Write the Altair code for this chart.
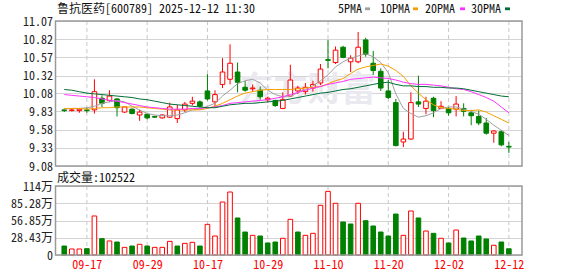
import altair as alt
import pandas as pd

# ---------------- data ----------------
dates = ["09-12","09-15","09-16","09-17","09-18","09-19","09-22","09-23","09-24","09-25",
         "09-26","09-29","09-30","10-09","10-10","10-13","10-14","10-15","10-16","10-17",
         "10-20","10-21","10-22","10-23","10-24","10-27","10-28","10-29","10-30","10-31",
         "11-03","11-04","11-05","11-06","11-07","11-10","11-11","11-12","11-13","11-14",
         "11-17","11-18","11-19","11-20","11-21","11-24","11-25","11-26","11-27","11-28",
         "12-01","12-02","12-03","12-04","12-05","12-08","12-09","12-10","12-11","12-12"]

opens  = [9.85, 9.84, 9.84, 9.85, 9.85, 10.01, 9.98, 10.00, 9.82, 9.86,
          9.78, 9.79, 9.76, 9.74, 9.75, 9.73, 9.85, 9.94, 9.96, 10.11,
          9.96, 10.20, 10.27, 10.37, 10.16, 10.14, 10.12, 9.99, 9.98, 9.87,
          10.04, 10.11, 10.10, 10.15, 10.22, 10.54, 10.50, 10.71, 10.51, 10.51,
          10.81, 10.49, 10.38, 10.11, 9.95, 9.41, 9.45, 9.96, 9.87, 10.01,
          9.87, 9.87, 9.86, 9.87, 9.81, 9.76, 9.67, 9.53, 9.55, 9.35]
highs  = [9.87, 9.87, 9.87, 9.88, 10.27, 10.05, 10.12, 10.01, 9.89, 9.87,
          9.85, 9.80, 9.77, 9.79, 9.95, 9.92, 9.96, 10.03, 9.98, 10.34,
          10.12, 10.56, 10.75, 10.50, 10.25, 10.20, 10.17, 10.03, 9.99, 10.09,
          10.47, 10.18, 10.22, 10.25, 10.48, 10.81, 10.72, 10.73, 10.60, 10.92,
          10.84, 10.66, 10.42, 10.26, 10.00, 9.55, 10.09, 10.32, 10.03, 10.03,
          9.97, 9.89, 10.04, 9.94, 9.85, 9.84, 9.74, 9.57, 9.57, 9.41]
lows   = [9.82, 9.83, 9.81, 9.81, 9.80, 9.89, 9.96, 9.76, 9.81, 9.79,
          9.70, 9.72, 9.74, 9.73, 9.74, 9.67, 9.82, 9.91, 9.88, 9.98,
          9.89, 10.15, 10.20, 10.09, 10.10, 10.10, 9.99, 9.95, 9.89, 9.86,
          10.03, 10.07, 10.06, 10.10, 10.19, 10.42, 10.48, 10.56, 10.37, 10.49,
          10.58, 10.33, 10.11, 10.00, 9.35, 9.34, 9.44, 9.89, 9.79, 9.75,
          9.86, 9.77, 9.76, 9.76, 9.64, 9.64, 9.51, 9.40, 9.35, 9.26]
closes = [9.84, 9.85, 9.86, 9.84, 10.10, 9.94, 10.04, 9.88, 9.89, 9.80,
          9.82, 9.74, 9.75, 9.78, 9.89, 9.85, 9.93, 9.97, 9.90, 10.00,
          10.06, 10.37, 10.49, 10.23, 10.12, 10.15, 10.03, 10.01, 9.91, 9.99,
          10.26, 10.15, 10.16, 10.20, 10.41, 10.53, 10.67, 10.57, 10.56, 10.71,
          10.61, 10.39, 10.15, 10.02, 9.36, 9.45, 9.95, 9.93, 9.97, 9.84,
          9.90, 9.81, 9.93, 9.83, 9.77, 9.67, 9.53, 9.56, 9.37, 9.34]

# volume in 万 shares; direction vs previous close (u = red, d = green)
volumes = [14.8, 9.9, 9.9, 10.4, 64.3, 26.9, 23.1, 21.4, 12.6, 14.8,
           17.6, 14.8, 12.6, 12.6, 22.5, 14.8, 19.2, 20.9, 14.8, 50.5,
           31.3, 87.3, 103.8, 61.0, 37.9, 32.4, 31.3, 19.8, 21.4, 27.5,
           58.8, 37.9, 32.4, 35.7, 81.9, 104.9, 85.2, 54.4, 51.1, 85.2,
           56.5, 47.8, 37.9, 31.3, 67.5, 32.4, 72.5, 61.0, 39.5, 35.7,
           27.5, 19.8, 41.2, 28.0, 23.1, 31.3, 26.4, 16.0, 21.4, 10.25]
vol_dir = ["d","u","u","d","u","d","u","d","u","d",
           "u","d","u","u","u","d","u","u","d","u",
           "u","u","u","d","d","u","d","d","d","u",
           "u","d","u","u","u","u","u","d","d","u",
           "d","d","d","d","d","u","u","d","u","d",
           "u","d","u","d","d","d","d","u","d","d"]

ma5  = [9.86, 9.87, 9.87, 9.88, 9.90, 9.94, 9.96, 9.98, 9.96, 9.90,
        9.85, 9.80, 9.78, 9.77, 9.77, 9.78, 9.81, 9.85, 9.86, 9.90,
        9.94, 10.04, 10.12, 10.21, 10.25, 10.27, 10.22, 10.12, 10.06, 10.03,
        10.03, 10.09, 10.13, 10.18, 10.25, 10.33, 10.44, 10.51, 10.56, 10.59,
        10.62, 10.58, 10.50, 10.36, 10.07, 9.87, 9.80, 9.75, 9.77, 9.81,
        9.87, 9.89, 9.89, 9.86, 9.83, 9.79, 9.72, 9.64, 9.57, 9.50]
ma10 = [9.87, 9.87, 9.87, 9.86, 9.87, 9.88, 9.88, 9.89, 9.89, 9.89,
        9.89, 9.88, 9.87, 9.86, 9.85, 9.85, 9.85, 9.85, 9.85, 9.87,
        9.90, 9.94, 9.99, 10.04, 10.08, 10.10, 10.12, 10.13, 10.13, 10.13,
        10.13, 10.14, 10.15, 10.16, 10.17, 10.21, 10.25, 10.28, 10.35, 10.41,
        10.44, 10.46, 10.48, 10.45, 10.39, 10.31, 10.18, 10.08, 9.99, 9.92,
        9.88, 9.87, 9.86, 9.84, 9.84, 9.85, 9.82, 9.77, 9.72, 9.67]
ma20 = [10.06, 10.05, 10.04, 10.03, 10.02, 10.00, 9.98, 9.97, 9.95, 9.93,
        9.91, 9.89, 9.88, 9.87, 9.86, 9.86, 9.86, 9.87, 9.87, 9.88,
        9.89, 9.91, 9.94, 9.95, 9.96, 9.97, 9.98, 9.99, 10.01, 10.03,
        10.06, 10.09, 10.12, 10.15, 10.17, 10.20, 10.22, 10.24, 10.27, 10.28,
        10.29, 10.30, 10.29, 10.28, 10.26, 10.23, 10.21, 10.20, 10.20, 10.19,
        10.18, 10.16, 10.14, 10.13, 10.10, 10.06, 10.02, 9.97, 9.89, 9.81]
ma30 = [10.13, 10.12, 10.10, 10.08, 10.07, 10.06, 10.05, 10.04, 10.03, 10.02,
        10.00, 9.99, 9.97, 9.95, 9.93, 9.92, 9.91, 9.90, 9.89, 9.88,
        9.88, 9.90, 9.92, 9.93, 9.94, 9.94, 9.95, 9.96, 9.97, 9.98,
        10.00, 10.02, 10.04, 10.06, 10.08, 10.09, 10.11, 10.13, 10.14, 10.16,
        10.18, 10.20, 10.22, 10.23, 10.20, 10.18, 10.18, 10.17, 10.17, 10.16,
        10.16, 10.15, 10.15, 10.14, 10.12, 10.10, 10.08, 10.06, 10.04, 10.03]

ma_names = ["5PMA", "10PMA", "20PMA", "30PMA"]
ma_colors = ["#a0a0a0", "#f5a000", "#ff33ff", "#006f35"]

price_ticks = [9.08, 9.33, 9.58, 9.83, 10.08, 10.32, 10.57, 10.82, 11.07]
vol_ticks = [0, 28.43, 56.85, 85.28, 113.7]
vol_tick_labels = ["0", "28.43万", "56.85万", "85.28万", "114万"]
label_idx = [3, 11, 19, 27, 35, 43, 51, 59]

title_text = "鲁抗医药[600789] 2025-12-12  11:30"
vol_title = "成交量:102522"
watermark = "东方财富"

# ---------------- layout / style ----------------
FONT = "Noto Sans Mono CJK SC, Noto Sans CJK SC, DejaVu Sans Mono, sans-serif"
RED, GREEN = "#ff0000", "#008000"
W, H, PH, VT = 466.5, 234, 145, 165

n = len(dates)
idx = list(range(n))
candles = pd.DataFrame({
    "idx": idx, "date": dates, "open": opens, "high": highs, "low": lows,
    "close": closes, "vol": volumes, "vdir": vol_dir,
})
candles["cdir"] = ["up" if c >= o else "down" for o, c in zip(opens, closes)]

ma_df = pd.DataFrame({
    "idx": idx * 4,
    "ma": ma5 + ma10 + ma20 + ma30,
    "series": sum([[nm] * n for nm in ma_names], []),
})

xs = alt.Scale(domain=[-0.5, 60.08], nice=False, zero=False)
date_arr = "[" + ",".join("'%s'" % d for d in dates) + "]"
x_axis = alt.Axis(values=label_idx, labelExpr=date_arr + "[datum.value]", grid=False,
                  domain=False, ticks=False, labelColor=RED, labelFont=FONT,
                  labelFontSize=12, labelPadding=4, labelFlush=False,
                  labelOverlap=False, title=None)
X = alt.X("idx:Q", scale=xs, axis=x_axis)

ps = alt.Scale(domain=[9.08, 11.07], range=[PH, 0], nice=False, zero=False)
vs = alt.Scale(domain=[0, 113.7], range=[H, VT], nice=False, zero=False)

price_axis = alt.Axis(values=price_ticks, format=".2f", grid=True, gridColor="#d4d4d4",
                      domain=False, ticks=False, labelFont=FONT, labelFontSize=12,
                      labelColor="#222222", labelPadding=3, labelFlush=False,
                      labelOverlap=False, title=None, orient="left")
vt_arr = "[" + ",".join(str(v) for v in vol_ticks) + "]"
vl_arr = "[" + ",".join("'%s'" % s for s in vol_tick_labels) + "]"
vol_axis = alt.Axis(values=vol_ticks, labelExpr=vl_arr + "[indexof(" + vt_arr + ", datum.value)]",
                    grid=True, gridColor="#d4d4d4", domain=False, ticks=False,
                    labelFont=FONT, labelFontSize=12, labelColor="#222222",
                    labelPadding=3, labelFlush=False, labelOverlap=False,
                    title=None, orient="left")

base = alt.Chart(candles)
up = base.transform_filter("datum.cdir == 'up'")
down = base.transform_filter("datum.cdir == 'down'")

one = pd.DataFrame({"k": [0]})

wm = alt.Chart(pd.DataFrame({"t": [watermark]})).mark_text(
    align="left", baseline="middle", font="Noto Sans CJK SC", fontSize=34,
    fontWeight="bold", color="#e9e9ef").encode(
    text="t:N", x=alt.value(184), y=alt.value(70))

vg = alt.Chart(pd.DataFrame({"idx": label_idx}))
vg1 = vg.mark_rule(color="#c8c8c8", strokeDash=[4, 3]).encode(
    x=X, y=alt.value(0), y2=alt.value(PH))
vg2 = vg.mark_rule(color="#c8c8c8", strokeDash=[4, 3]).encode(
    x=X, y=alt.value(VT), y2=alt.value(H))

wick_up = up.mark_rule(color=RED, strokeWidth=1).encode(
    x=X, y=alt.Y("low:Q", scale=ps, axis=price_axis), y2="high:Q")
wick_dn = down.mark_rule(color=GREEN, strokeWidth=1).encode(
    x=X, y=alt.Y("low:Q", scale=ps, axis=None), y2="high:Q")
body_up = up.mark_bar(size=4.6, fill="white", stroke=RED, strokeWidth=1).encode(
    x=X, y=alt.Y("open:Q", scale=ps, axis=None), y2="close:Q")
body_dn = down.mark_bar(size=4.6, fill=GREEN, stroke=GREEN, strokeWidth=1).encode(
    x=X, y=alt.Y("open:Q", scale=ps, axis=None), y2="close:Q")

vol_up = base.transform_filter("datum.vdir == 'u'").mark_bar(
    size=4.6, fill="white", stroke=RED, strokeWidth=1).encode(
    x=X, y=alt.Y("vol:Q", scale=vs, axis=vol_axis), y2=alt.datum(0))
vol_dn = base.transform_filter("datum.vdir == 'd'").mark_bar(
    size=4.6, fill=GREEN, stroke=GREEN, strokeWidth=1).encode(
    x=X, y=alt.Y("vol:Q", scale=vs, axis=None), y2=alt.datum(0))

lines = alt.Chart(ma_df).mark_line(strokeWidth=1).encode(
    x=X, y=alt.Y("ma:Q", scale=ps, axis=None),
    color=alt.Color("series:N", scale=alt.Scale(domain=ma_names, range=ma_colors), legend=None),
    detail="series:N")

frame1 = alt.Chart(one).mark_rect(fillOpacity=0, stroke="#9a9a9a", strokeWidth=1.5).encode(
    x=alt.value(0), x2=alt.value(W), y=alt.value(0), y2=alt.value(PH))
frame2 = alt.Chart(one).mark_rect(fillOpacity=0, stroke="#9a9a9a", strokeWidth=1.5).encode(
    x=alt.value(0), x2=alt.value(W), y=alt.value(VT), y2=alt.value(H))

title = alt.Chart(pd.DataFrame({"t": [title_text]})).mark_text(
    align="left", baseline="middle", font=FONT, fontSize=12, color="#111111").encode(
    text="t:N", x=alt.value(1.5), y=alt.value(-12.3))
vtitle = alt.Chart(pd.DataFrame({"t": [vol_title]})).mark_text(
    align="left", baseline="middle", font=FONT, fontSize=12, color="#111111").encode(
    text="t:N", x=alt.value(1.5), y=alt.value(156.7))

legend_text_x = [282.5, 324.5, 369.5, 415.5]
legend_mark_x = [309.5, 357.5, 404.5, 449.5]
legend_layers = []
for nm, col, tx, mx in zip(ma_names, ma_colors, legend_text_x, legend_mark_x):
    legend_layers.append(
        alt.Chart(pd.DataFrame({"t": [nm]})).mark_text(
            align="left", baseline="middle", font=FONT, fontSize=12, color="#111111").encode(
            text="t:N", x=alt.value(tx), y=alt.value(-12)))
    legend_layers.append(
        alt.Chart(one).mark_rect(color=col).encode(
            x=alt.value(mx), x2=alt.value(mx + 5), y=alt.value(-13.6), y2=alt.value(-10.8)))

chart = alt.layer(
    wm, vg1, vg2, wick_up, wick_dn, body_up, body_dn, vol_up, vol_dn, lines,
    frame1, frame2, title, vtitle, *legend_layers
).resolve_scale(y="independent").properties(
    width=W, height=H,
    padding={"left": 55.5, "top": 21, "right": 56, "bottom": 21},
    autosize=alt.AutoSizeParams(type="none"),
    background="white",
).configure_view(stroke=None)

chart.save("out.html", embed_options={"renderer": "svg", "actions": False})
